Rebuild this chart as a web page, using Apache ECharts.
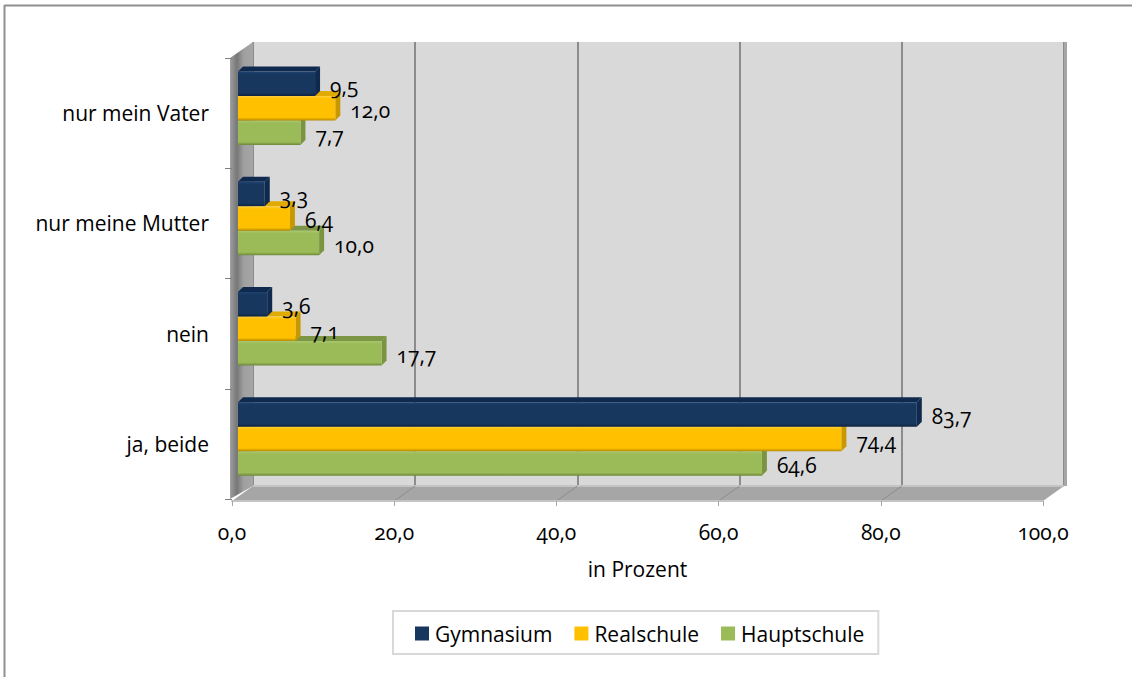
<!DOCTYPE html>
<html>
<head>
<meta charset="utf-8">
<script src="https://cdn.jsdelivr.net/npm/echarts@6/dist/echarts.min.js"></script>
<style>
  html, body { margin: 0; padding: 0; background: #fff; }
  #chart { width: 1132px; height: 677px; }
  /* alte Ziffern wie im Original */
  #chart text { font-feature-settings: "onum" 1 !important; font-variant-numeric: oldstyle-nums !important; }
</style>
</head>
<body>
<div id="chart"></div>
<script>
const categories = ['nur mein Vater', 'nur meine Mutter', 'nein', 'ja, beide'];
const gymnasium = [9.5, 3.3, 3.6, 83.7];
const realschule = [12.0, 6.4, 7.1, 74.4];
const hauptschule = [7.7, 10.0, 17.7, 64.6];
const xTicks = [0, 20, 40, 60, 80, 100];

const seriesNames = ['Gymnasium', 'Realschule', 'Hauptschule'];
const seriesValues = [gymnasium, realschule, hauptschule];
// Seite, Front, Oberkante, Glanzkante, Schattenkante
const seriesColors = [
  ['#0f2a4e', '#17375e', '#0f2a4e', '#1f4374', '#0e2440'],
  ['#c99700', '#ffc000', '#e0aa00', '#ffd040', '#b98c00'],
  ['#7a9440', '#9bbb59', '#7d9645', '#aac86e', '#6f8a3a']
];

const FONT = '"Open Sans", sans-serif';
const FONT_SIZE = 21;
const LABEL_SIZE = 21;
const SLOT = 24.5;
const DEPTH = 5;

// Rahmen des 3D-Kastens
const front = { left: 232, top: 58, width: 811, bottom: 499 };
const back = { left: 253, top: 42, width: 811, bottom: 486 };
const FLOOR_Y = 501;

const fmt = v => v.toFixed(1).replace('.', ',');

const chart = echarts.init(document.getElementById('chart'), null, { renderer: 'svg' });

function poly(points, fill) {
  return { type: 'polygon', shape: { points: points }, style: { fill: fill } };
}

function renderBar(seriesIndex, params, api) {
  const value = api.value(0);
  const end = api.coord([value, api.value(1)]);
  const start = api.coord([0, api.value(1)]);
  const y0 = end[1] + (seriesIndex - 1.5) * SLOT;
  const y1 = y0 + SLOT;
  const c = seriesColors[seriesIndex];
  return {
    type: 'group',
    children: [
      poly([[start[0], y0], [start[0] + DEPTH, y0 - DEPTH], [end[0] + DEPTH, y0 - DEPTH], [end[0], y0]], c[2]),
      poly([[end[0], y0], [end[0] + DEPTH, y0 - DEPTH], [end[0] + DEPTH, y1 - DEPTH], [end[0], y1]], c[0]),
      {
        type: 'rect',
        shape: { x: start[0], y: y0, width: end[0] - start[0], height: SLOT },
        style: {
          fill: new echarts.graphic.LinearGradient(0, 0, 0, 1, [
            { offset: 0, color: c[3] },
            { offset: 0.12, color: c[1] },
            { offset: 0.88, color: c[1] },
            { offset: 1, color: c[4] }
          ])
        }
      },
      {
        type: 'text',
        style: {
          text: fmt(value),
          x: end[0] + DEPTH + 10,
          y: (y0 + y1) / 2 + 2,
          font: LABEL_SIZE + 'px ' + FONT,
          fill: '#000',
          verticalAlign: 'middle'
        },
        z2: 10
      }
    ]
  };
}

const sideWall = {
  type: 'polygon',
  z: 1,
  shape: { points: [[230, front.top], [back.left, back.top], [back.left, back.bottom], [230, front.bottom]] },
  style: {
    fill: new echarts.graphic.LinearGradient(0, 0, 1, 0, [
      { offset: 0, color: '#a0a0a0' },
      { offset: 0.3, color: '#777777' },
      { offset: 0.6, color: '#a0a0a0' },
      { offset: 1, color: '#a6a6a6' }
    ])
  }
};

const floor = {
  type: 'polygon',
  z: 1,
  shape: {
    points: [
      [front.left, FLOOR_Y],
      [back.left, back.bottom],
      [back.left + back.width, back.bottom],
      [front.left + front.width, FLOOR_Y]
    ]
  },
  style: { fill: '#a6a6a6' }
};

const floorEdge = {
  type: 'line',
  z: 1,
  shape: { x1: back.left, y1: back.bottom, x2: back.left + back.width, y2: back.bottom },
  style: { stroke: '#c4c4c4', lineWidth: 2 }
};

const rightEdge = {
  type: 'rect',
  z: 1,
  shape: { x: back.left + back.width, y: back.top, width: 3, height: back.bottom - back.top },
  style: { fill: '#a6a6a6' }
};

const floorLines = xTicks.slice(1, -1).map(t => ({
  type: 'line',
  z: 1,
  shape: {
    x1: front.left + front.width * t / 100,
    y1: FLOOR_Y,
    x2: back.left + back.width * t / 100,
    y2: back.bottom
  },
  style: { stroke: '#8c8c8c', lineWidth: 1 }
}));

const frame = [
  { type: 'line', z: 1, shape: { x1: 4.5, y1: 5.5, x2: 1132, y2: 5.5 }, style: { stroke: '#8f8f8f', lineWidth: 2 } },
  { type: 'line', z: 1, shape: { x1: 4.5, y1: 5, x2: 4.5, y2: 677 }, style: { stroke: '#8f8f8f', lineWidth: 2 } }
];

chart.setOption({
  animation: false,
  textStyle: { fontFamily: FONT },
  graphic: { elements: [sideWall, floor, floorEdge, rightEdge].concat(floorLines, frame) },
  legend: {
    data: seriesNames,
    left: 393,
    top: 611,
    padding: [12, 14, 10, 22],
    itemGap: 22,
    itemWidth: 14,
    itemHeight: 14,
    icon: 'rect',
    borderColor: '#d9d9d9',
    borderWidth: 2,
    textStyle: { fontFamily: FONT, fontSize: FONT_SIZE, color: '#000', padding: [0, 0, 0, 1] }
  },
  grid: [
    // Rueckwand
    {
      left: back.left, width: back.width, top: back.top, height: back.bottom - back.top,
      show: true, backgroundColor: '#d9d9d9', borderWidth: 0
    },
    // vordere Achsen
    { left: front.left, width: front.width, top: front.top, height: front.bottom - front.top },
    // Balken
    { left: 238, width: front.width, top: 53, height: 441 }
  ],
  xAxis: [
    {
      gridIndex: 0, type: 'value', min: 0, max: 100, interval: 20,
      axisLabel: { show: false }, axisTick: { show: false }, axisLine: { show: false },
      splitLine: { show: true, lineStyle: { color: '#8c8c8c', width: 2 } }
    },
    {
      gridIndex: 1, type: 'value', min: 0, max: 100, interval: 20,
      offset: FLOOR_Y - front.bottom,
      name: 'in Prozent', nameLocation: 'middle', nameGap: 57,
      nameTextStyle: { fontSize: FONT_SIZE, color: '#000', fontFamily: FONT },
      axisLabel: { fontSize: FONT_SIZE, color: '#000', margin: 20, formatter: v => fmt(v), fontFamily: FONT },
      axisTick: { show: true, length: 5, lineStyle: { color: '#a6a6a6' } },
      axisLine: { show: true, lineStyle: { color: '#c4c4c4', width: 2 } },
      splitLine: { show: false },
      z: 3
    },
    {
      gridIndex: 2, type: 'value', min: 0, max: 100, interval: 20, show: false
    }
  ],
  yAxis: [
    { gridIndex: 0, type: 'value', show: false },
    {
      gridIndex: 1, type: 'category', data: categories, inverse: true,
      axisLabel: { fontSize: FONT_SIZE, color: '#000', margin: 23, fontFamily: FONT },
      axisTick: { show: true, length: 7, lineStyle: { color: '#808080' } },
      axisLine: { show: false },
      z: 3
    },
    { gridIndex: 2, type: 'category', data: categories, inverse: true, show: false }
  ],
  series: seriesNames.map((name, i) => ({
    name: name,
    type: 'custom',
    xAxisIndex: 2,
    yAxisIndex: 2,
    z: 10 - i,
    clip: false,
    itemStyle: { color: seriesColors[i][1] },
    encode: { x: 0, y: 1 },
    renderItem: (params, api) => renderBar(i, params, api),
    data: seriesValues[i].map((v, c) => [v, c])
  }))
});
</script>
</body>
</html>
